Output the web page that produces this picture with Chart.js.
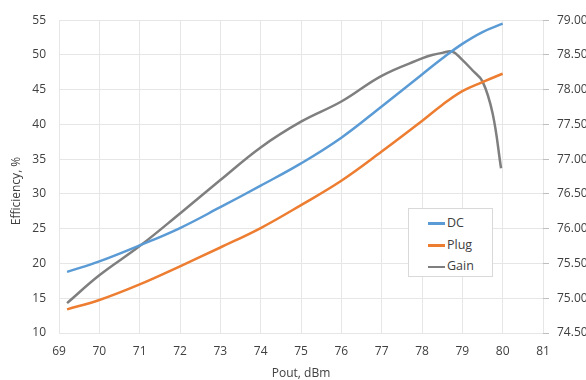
<!DOCTYPE html>
<html lang="en">
<head>
    <meta charset="UTF-8">
    <title>Efficiency and Gain vs Pout</title>
    <script src="https://cdn.jsdelivr.net/npm/chart.js"></script>
    <style>
        body {
            margin: 0;
            background: white;
            overflow: hidden;
            font-family: 'Open Sans', sans-serif;
        }
        .wrap {
            position: relative;
            width: 620px;
            height: 380px;
        }
        .legend {
            position: absolute;
            left: 408px;
            top: 208px;
            width: 85px;
            height: 69px;
            border: 1px solid #d9d9d9;
            background: white;
            box-sizing: border-box;
            font-size: 12.5px;
            color: #404040;
            padding-top: 3px;
        }
        .legend div {
            height: 21.7px;
            line-height: 21.7px;
            padding-left: 19px;
        }
        .legend span {
            display: inline-block;
            width: 17px;
            height: 2.5px;
            vertical-align: middle;
            margin-right: 2px;
        }
    </style>
</head>
<body>
    <div class="wrap">
        <canvas id="chart"></canvas>
        <div class="legend">
            <div><span style="background:#5b9bd5"></span>DC</div>
            <div><span style="background:#ed7d31"></span>Plug</div>
            <div><span style="background:#7f7f7f"></span>Gain</div>
        </div>
    </div>

    <script>
        // Data
        const pout = [69.2, 70, 71, 72, 73, 74, 75, 76, 77, 78, 78.5, 79, 79.5, 80];
        const dcEff = [18.8, 20.3, 22.6, 25.1, 28.1, 31.2, 34.4, 38.1, 42.6, 47.2, 49.5, 51.6, 53.3, 54.5];
        const plugEff = [13.4, 14.75, 17.0, 19.6, 22.3, 25.1, 28.4, 31.9, 36.1, 40.5, 42.8, 44.8, 46.1, 47.3];
        const gainPout = [69.2, 70, 71, 72, 73, 74, 75, 76, 77, 78, 78.25, 78.5, 78.75, 79, 79.25, 79.5, 79.75, 79.96];
        const gainDb = [74.93, 75.33, 75.75, 76.22, 76.70, 77.17, 77.54, 77.83, 78.20, 78.45, 78.50, 78.53, 78.55, 78.43, 78.28, 78.12, 77.66, 76.87];

        const xMin = 69, xMax = 81;
        const effMin = 10, effMax = 55, effStep = 5;
        const gainMin = 74.5, gainMax = 79, gainStep = 0.5;

        const pts = (xs, ys) => xs.map((x, i) => ({ x: x, y: ys[i] }));

        const gridColor = '#e6e6e6';
        const textColor = '#404040';
        const tickFont = { family: 'Open Sans', size: 12 };

        // y axis title drawn by hand so it sits where Excel put it
        const yTitle = {
            id: 'yTitle',
            afterDraw(chart) {
                const ctx = chart.ctx;
                ctx.save();
                ctx.translate(17, 191);
                ctx.rotate(-Math.PI / 2);
                ctx.font = '12px "Open Sans"';
                ctx.fillStyle = textColor;
                ctx.textAlign = 'center';
                ctx.textBaseline = 'middle';
                ctx.fillText('Efficiency, %', 0, 0);
                ctx.restore();
            }
        };

        const ctx = document.getElementById('chart').getContext('2d');
        new Chart(ctx, {
            type: 'line',
            data: {
                datasets: [
                    {
                        label: 'DC',
                        data: pts(pout, dcEff),
                        borderColor: '#5b9bd5',
                        yAxisID: 'y'
                    },
                    {
                        label: 'Plug',
                        data: pts(pout, plugEff),
                        borderColor: '#ed7d31',
                        yAxisID: 'y'
                    },
                    {
                        label: 'Gain',
                        data: pts(gainPout, gainDb),
                        borderColor: '#7f7f7f',
                        yAxisID: 'y2'
                    }
                ]
            },
            options: {
                responsive: true,
                maintainAspectRatio: false,
                animation: false,
                layout: { padding: { top: 15 } },
                elements: {
                    point: { radius: 0 },
                    line: { borderWidth: 2.5, tension: 0.4 }
                },
                plugins: {
                    legend: { display: false },
                    tooltip: { enabled: false }
                },
                scales: {
                    x: {
                        type: 'linear',
                        min: xMin,
                        max: xMax,
                        ticks: { stepSize: 1, color: textColor, font: tickFont, padding: 11 },
                        grid: { color: gridColor, drawTicks: false },
                        border: { display: false },
                        title: {
                            display: true,
                            text: 'Pout, dBm',
                            color: textColor,
                            font: { family: 'Open Sans', size: 12, lineHeight: 1 },
                            padding: { top: 0, bottom: 0 }
                        },
                        afterFit(scale) { scale.height = 47; }
                    },
                    y: {
                        position: 'left',
                        min: effMin,
                        max: effMax,
                        ticks: { stepSize: effStep, color: textColor, font: tickFont, padding: 13 },
                        grid: { color: gridColor, drawTicks: false },
                        border: { display: false },
                        afterFit(scale) { scale.width = 59; }
                    },
                    y2: {
                        position: 'right',
                        min: gainMin,
                        max: gainMax,
                        ticks: {
                            stepSize: gainStep,
                            color: textColor,
                            font: tickFont,
                            padding: 8,
                            callback: v => v.toFixed(2)
                        },
                        grid: { drawOnChartArea: false, color: '#bfbfbf', tickLength: 6 },
                        border: { display: false },
                        afterFit(scale) { scale.width = 77; }
                    }
                }
            },
            plugins: [yTitle]
        });
    </script>
</body>
</html>
